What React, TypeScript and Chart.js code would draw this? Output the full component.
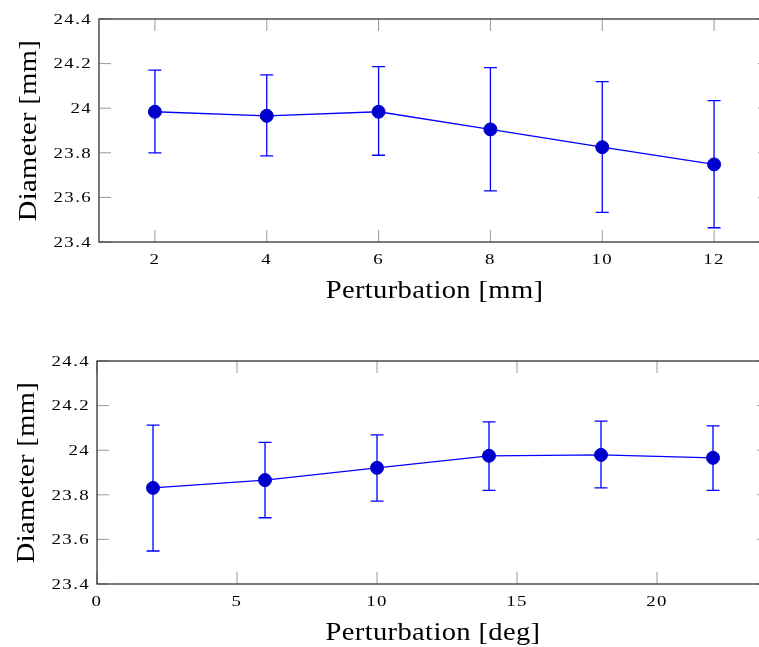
import React, { useEffect, useRef } from "react";
import { Chart, registerables } from "chart.js";

Chart.register(...registerables);

// ---- Data ----
const topX = [2, 4, 6, 8, 10, 12];
const topMean = [23.984, 23.966, 23.984, 23.905, 23.825, 23.748];
const topUpper = [24.171, 24.149, 24.186, 24.182, 24.119, 24.034];
const topLower = [23.8, 23.786, 23.789, 23.629, 23.533, 23.464];
const topXTicks = [2, 4, 6, 8, 10, 12];

const bottomX = [2, 6, 10, 14, 18, 22];
const bottomMean = [23.831, 23.866, 23.921, 23.975, 23.979, 23.966];
const bottomUpper = [24.112, 24.035, 24.069, 24.127, 24.13, 24.109];
const bottomLower = [23.548, 23.697, 23.772, 23.82, 23.831, 23.82];
const bottomXTicks = [0, 5, 10, 15, 20];

const yTicks = [23.4, 23.6, 23.8, 24, 24.2, 24.4];
const yTickLabels = ["23.4", "23.6", "23.8", "24", "24.2", "24.4"];

const yTitle = "Diameter [mm]";
const topXTitle = "Perturbation [mm]";
const bottomXTitle = "Perturbation [deg]";

const SERIF = '"Liberation Serif", "Times New Roman", serif';

function drawText(
  ctx: CanvasRenderingContext2D,
  text: string,
  x: number,
  y: number,
  size: number,
  stretch: number,
  spacing: number,
  align: CanvasTextAlign,
  rotate = false
) {
  ctx.save();
  ctx.translate(x, y);
  if (rotate) ctx.rotate(-Math.PI / 2);
  ctx.scale(stretch, 1);
  ctx.font = `${size}px ${SERIF}`;
  (ctx as any).letterSpacing = `${spacing}px`;
  ctx.textAlign = align;
  ctx.textBaseline = "alphabetic";
  ctx.fillStyle = "#000";
  ctx.fillText(text, 0, 0);
  ctx.restore();
}

type PlotProps = {
  top: number;
  height: number;
  padding: { left: number; top: number; right: number; bottom: number };
  xs: number[];
  mean: number[];
  upper: number[];
  lower: number[];
  xMin: number;
  xMax: number;
  xTicks: number[];
  xTitle: string;
};

function Plot(p: PlotProps) {
  const ref = useRef<HTMLCanvasElement | null>(null);

  useEffect(() => {
    if (!ref.current) return;
    const pgf = {
      id: "pgfAxis",
      beforeDatasetsDraw(chart: any) {
        const { ctx, chartArea: a, scales } = chart;
        const x = scales.x;
        const y = scales.y;
        const tl = 12;
        ctx.save();
        // ticks (gray, inward, on all four sides)
        ctx.strokeStyle = "#9a9a9a";
        ctx.lineWidth = 1;
        ctx.beginPath();
        p.xTicks.forEach((v) => {
          const px = x.getPixelForValue(v);
          ctx.moveTo(px, a.bottom);
          ctx.lineTo(px, a.bottom - tl);
          ctx.moveTo(px, a.top);
          ctx.lineTo(px, a.top + tl);
        });
        yTicks.forEach((v) => {
          const py = y.getPixelForValue(v);
          ctx.moveTo(a.left, py);
          ctx.lineTo(a.left + tl, py);
          ctx.moveTo(a.right, py);
          ctx.lineTo(a.right - tl, py);
        });
        ctx.stroke();
        // axis box
        ctx.strokeStyle = "#333333";
        ctx.lineWidth = 1.3;
        ctx.strokeRect(a.left, a.top, a.right - a.left, a.bottom - a.top);
        // error bars
        ctx.strokeStyle = "#0000ff";
        ctx.lineWidth = 1.3;
        ctx.beginPath();
        p.xs.forEach((v, i) => {
          const px = x.getPixelForValue(v);
          const pu = y.getPixelForValue(p.upper[i]);
          const pl = y.getPixelForValue(p.lower[i]);
          ctx.moveTo(px, pu);
          ctx.lineTo(px, pl);
          ctx.moveTo(px - 6.5, pu);
          ctx.lineTo(px + 6.5, pu);
          ctx.moveTo(px - 6.5, pl);
          ctx.lineTo(px + 6.5, pl);
        });
        ctx.stroke();
        ctx.restore();

        // tick labels
        p.xTicks.forEach((v) => {
          const px = x.getPixelForValue(v);
          drawText(ctx, String(v), px, a.bottom + 21.5, 14, 1.35, 1, "center");
        });
        yTicks.forEach((v, i) => {
          const py = y.getPixelForValue(v);
          drawText(ctx, yTickLabels[i], a.left - 7, py + 4.8, 14, 1.35, 1, "right");
        });
        // axis titles
        drawText(ctx, p.xTitle, (a.left + a.right) / 2, a.bottom + 56, 26, 1.1, 0.3, "center");
        drawText(ctx, yTitle, a.left - 63, (a.top + a.bottom) / 2, 26, 1.1, 0.3, "center", true);
      },
    };

    const chart = new Chart(ref.current, {
      type: "line",
      data: {
        datasets: [
          {
            data: p.xs.map((v, i) => ({ x: v, y: p.mean[i] })),
            borderColor: "#0000ff",
            borderWidth: 1.3,
            pointRadius: 6.5,
            pointBackgroundColor: "#0000cc",
            pointBorderColor: "#0000cc",
            pointBorderWidth: 1,
            tension: 0,
            fill: false,
          },
        ],
      },
      options: {
        animation: false,
        responsive: false,
        devicePixelRatio: 1,
        layout: { padding: p.padding },
        plugins: {
          legend: { display: false },
          tooltip: { enabled: false },
        },
        events: [],
        scales: {
          x: { type: "linear", display: false, min: p.xMin, max: p.xMax },
          y: { type: "linear", display: false, min: 23.4, max: 24.4 },
        },
      },
      plugins: [pgf],
    } as any);
    return () => chart.destroy();
  }, []);

  return (
    <canvas
      ref={ref}
      width={790}
      height={p.height}
      style={{ position: "absolute", left: 0, top: p.top, display: "block" }}
    />
  );
}

export default function App() {
  return (
    <div
      style={{
        position: "fixed",
        left: 0,
        top: 0,
        width: 759,
        height: 647,
        overflow: "hidden",
        background: "#fff",
      }}
    >
      <Plot
        top={0}
        height={320}
        padding={{ left: 99, top: 19, right: 20, bottom: 78 }}
        xs={topX}
        mean={topMean}
        upper={topUpper}
        lower={topLower}
        xMin={1}
        xMax={13}
        xTicks={topXTicks}
        xTitle={topXTitle}
      />
      <Plot
        top={330}
        height={317}
        padding={{ left: 97, top: 31, right: 21, bottom: 63 }}
        xs={bottomX}
        mean={bottomMean}
        upper={bottomUpper}
        lower={bottomLower}
        xMin={0}
        xMax={24}
        xTicks={bottomXTicks}
        xTitle={bottomXTitle}
      />
    </div>
  );
}
